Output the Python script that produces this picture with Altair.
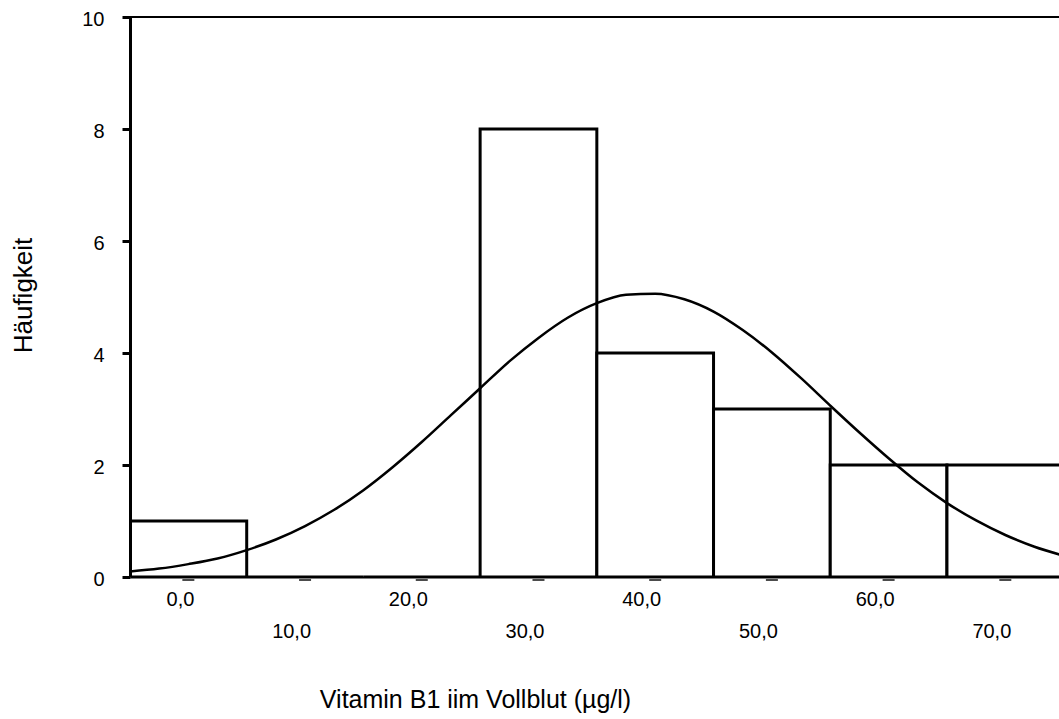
import altair as alt
import pandas as pd

# Histogram bins (class width 10) and frequencies
bin_start = [-5, 5, 15, 25, 35, 45, 55, 65]
bin_end = [5, 15, 25, 35, 45, 55, 65, 75]
counts = [1, 0, 0, 8, 4, 3, 2, 2]

# Normal curve
curve_x = [-5, -2.5, 0, 2.5, 5, 7.5, 10, 12.5, 15, 17.5, 20, 22.5, 25, 27.5, 30,
           32.5, 35, 37.5, 40, 42.5, 45, 47.5, 50, 52.5, 55, 57.5, 60, 62.5, 65,
           67.5, 70, 72.5, 75]
curve_y = [0.10, 0.15, 0.23, 0.33, 0.48, 0.67, 0.91, 1.20, 1.55, 1.96, 2.41, 2.89,
           3.37, 3.85, 4.27, 4.63, 4.89, 5.04, 5.06, 4.96, 4.74, 4.41, 4.01, 3.55,
           3.06, 2.58, 2.12, 1.69, 1.32, 1.01, 0.75, 0.54, 0.38]

# Axis ticks / labels
x_tick_values = [0, 10, 20, 30, 40, 50, 60, 70]
x_tick_labels = ["0,0", "10,0", "20,0", "30,0", "40,0", "50,0", "60,0", "70,0"]
y_tick_values = [0, 2, 4, 6, 8, 10]

FONT = "Liberation Sans"
W, H = 929, 560
X_DOMAIN = [-5, 74.6]
X_TITLE = "Vitamin B1 iim Vollblut (µg/l)"
Y_TITLE = "Häufigkeit"

bars_df = pd.DataFrame({"start": bin_start, "end": bin_end, "count": counts})
curve_df = pd.DataFrame({"x": curve_x, "y": curve_y})
ticks_df = pd.DataFrame({"x": x_tick_values, "label": x_tick_labels})

x_scale = alt.Scale(domain=X_DOMAIN, nice=False, zero=False)
y_scale = alt.Scale(domain=[0, 10], nice=False, zero=True)

x_axis = alt.Axis(
    title=X_TITLE,
    labels=False, ticks=False, grid=False,
    domain=True, domainColor="black", domainWidth=2,
    titleFont=FONT, titleFontSize=25, titleFontWeight="normal", titleColor="black",
    titleX=345, titleY=122, titleBaseline="middle", titleAlign="center",
    zindex=1,
)
y_axis = alt.Axis(
    title=Y_TITLE, values=y_tick_values, format="d", grid=False,
    domain=True, domainColor="black", domainWidth=3,
    ticks=True, tickColor="black", tickSize=8, tickWidth=3,
    labelFont=FONT, labelFontSize=20, labelColor="black", labelPadding=18,
    labelOffset=2,
    titleFont=FONT, titleFontSize=26, titleFontWeight="normal", titleColor="black",
    titleX=-107, titleY=278, titleAngle=270, titleBaseline="middle", titleAlign="center",
    zindex=1,
)

bars = alt.Chart(bars_df).mark_rect(
    fill="white", stroke="black", strokeWidth=3, clip=True
).encode(
    x=alt.X("start:Q", scale=x_scale, axis=x_axis, title=X_TITLE),
    x2="end:Q",
    y=alt.Y("count:Q", scale=y_scale, axis=y_axis, title=Y_TITLE),
    y2=alt.datum(0),
)

curve = alt.Chart(curve_df).mark_line(
    color="black", strokeWidth=2.5, interpolate="monotone", clip=True
).encode(
    x=alt.X("x:Q", title=X_TITLE),
    y=alt.Y("y:Q", title=Y_TITLE),
)

top_border = alt.Chart(pd.DataFrame({"a": [0]})).mark_rule(
    color="black", strokeWidth=2
).encode(
    x=alt.datum(X_DOMAIN[0]), x2=alt.datum(X_DOMAIN[1]), y=alt.datum(10)
)

dashes = alt.Chart(ticks_df).mark_tick(
    orient="horizontal", size=12, thickness=2, color="black"
).encode(
    x=alt.X("x:Q", title=X_TITLE),
    y=alt.value(H + 3),
)

labels_top = alt.Chart(ticks_df).transform_filter(
    "datum.x % 20 == 0"
).mark_text(
    font=FONT, fontSize=20, color="black", align="right", baseline="alphabetic", dx=6
).encode(
    x=alt.X("x:Q", title=X_TITLE),
    y=alt.value(H + 29),
    text="label:N",
)

labels_bottom = alt.Chart(ticks_df).transform_filter(
    "datum.x % 20 != 0"
).mark_text(
    font=FONT, fontSize=20, color="black", align="right", baseline="alphabetic", dx=6
).encode(
    x=alt.X("x:Q", title=X_TITLE),
    y=alt.value(H + 61),
    text="label:N",
)

chart = alt.layer(
    bars, curve, top_border, dashes, labels_top, labels_bottom
).properties(
    width=W, height=H,
    padding={"left": 130, "top": 17, "right": 0, "bottom": 142},
    autosize=alt.AutoSizeParams(type="none"),
    background="white",
).configure_view(stroke=None)

chart.save("out.html", embed_options={"renderer": "svg", "actions": False})
